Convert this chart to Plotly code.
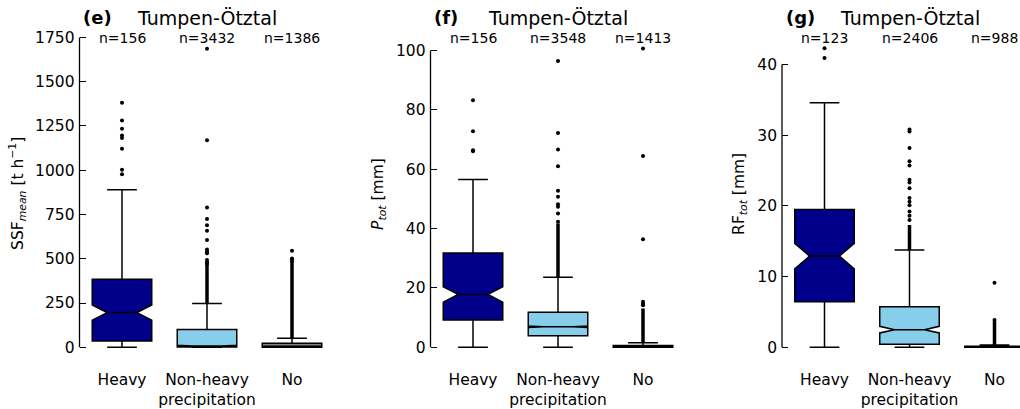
import plotly.graph_objects as go

# ---------------- data ----------------
categories = ["Heavy", "Non-heavy<br>precipitation", "No"]
box_colors = ["#00008B", "#87CEEB", "#808080"]

# (e) SSF_mean [t h-1]
ssf_n = [156, 3432, 1386]
ssf_q1 = [36, 2, 0]
ssf_median = [196, 7, 6]
ssf_q3 = [384, 100, 23]
ssf_low = [0, 0, 0]
ssf_high = [890, 247, 51]
ssf_notch = [43, 4, 1]
ssf_out_heavy = [1381, 1281, 1234, 1197, 1182, 1122, 1003, 977]
ssf_out_nonheavy = [1686, 1169, 790, 724, 690, 658, 606, 553, 540, 531, 493, 480, 470]
ssf_out_no = [545, 502, 497, 485]
ssf_dense = [None, (247, 468), (51, 480)]

# (f) P_tot [mm]
p_n = [156, 3548, 1413]
p_q1 = [9.2, 3.9, 0.0]
p_median = [17.8, 6.9, 0.2]
p_q3 = [31.8, 11.8, 0.6]
p_low = [0, 0, 0]
p_high = [56.5, 23.6, 1.5]
p_notch = [2.6, 0.25, 0.05]
p_out_heavy = [83.2, 72.8, 66.4, 66.0]
p_out_nonheavy = [96.4, 72.2, 66.6, 61.0, 52.7, 50.7, 48.2, 47.3, 45.1, 42.3]
p_out_no = [100.6, 64.4, 36.4, 15.3, 14.7, 14.2]
p_dense = [None, (23.6, 41.7), (1.5, 13.1)]

# (g) RF_tot [mm]
rf_n = [123, 2406, 988]
rf_q1 = [6.45, 0.45, 0.0]
rf_median = [12.9, 2.5, 0.05]
rf_q3 = [19.5, 5.75, 0.15]
rf_low = [0, 0, 0]
rf_high = [34.6, 13.75, 0.33]
rf_notch = [1.8, 0.47, 0.02]
rf_out_heavy = [42.3, 40.9]
rf_out_nonheavy = [30.8, 30.5, 28.2, 26.3, 25.7, 23.7, 23.3, 22.5, 21.1, 20.6, 20.1, 19.2, 18.6, 18.0]
rf_out_no = [9.13, 3.86]
rf_dense = [None, (13.75, 17.3), (0.33, 3.7)]

ytick_ssf = [0, 250, 500, 750, 1000, 1250, 1500, 1750]
ytick_p = [0, 20, 40, 60, 80, 100]
ytick_rf = [0, 10, 20, 30, 40]

# ---------------- layout constants ----------------
W, H = 1020, 409
FONT = "DejaVu Sans"
plot_top, plot_bot = 30, 362.5

panels = [
    dict(letter="(e)", ytitle="SSF<sub><i>mean</i></sub> [t h<sup>−1</sup>]",
         n=ssf_n, q1=ssf_q1, med=ssf_median, q3=ssf_q3, lo=ssf_low, hi=ssf_high, notch=ssf_notch,
         outs=[ssf_out_heavy, ssf_out_nonheavy, ssf_out_no], dense=ssf_dense,
         ticks=ytick_ssf, yrange=[-56.5, 1789.5], xpix=(79.5, 334.5), xrange=[-0.5, 2.5], ytx=18),
    dict(letter="(f)", ytitle="<i>P</i><sub><i>tot</i></sub> [mm]",
         n=p_n, q1=p_q1, med=p_median, q3=p_q3, lo=p_low, hi=p_high, notch=p_notch,
         outs=[p_out_heavy, p_out_nonheavy, p_out_no], dense=p_dense,
         ticks=ytick_p, yrange=[-3.37, 106.7], xpix=(430.5, 685.5), xrange=[-0.5, 2.5], ytx=379),
    dict(letter="(g)", ytitle="RF<sub><i>tot</i></sub> [mm]",
         n=rf_n, q1=rf_q1, med=rf_median, q3=rf_q3, lo=rf_low, hi=rf_high, notch=rf_notch,
         outs=[rf_out_heavy, rf_out_nonheavy, rf_out_no], dense=rf_dense,
         ticks=ytick_rf, yrange=[-1.41, 44.8], xpix=(782, 1020), xrange=[-0.5, 2.3], ytx=740),
]

fig = go.Figure()
annotations = []
shapes = []
ydom = [1 - plot_bot / H, 1 - plot_top / H]

for i, p in enumerate(panels):
    sfx = "" if i == 0 else str(i + 1)
    xa, ya = "x" + sfx, "y" + sfx
    for j, cat in enumerate(categories):
        fig.add_trace(go.Box(
            x=[cat], q1=[p["q1"][j]], median=[p["med"][j]], q3=[p["q3"][j]],
            lowerfence=[p["lo"][j]], upperfence=[p["hi"][j]], notchspan=[p["notch"][j]],
            notched=True, notchwidth=0.25, width=0.7, whiskerwidth=0.5,
            fillcolor=box_colors[j], line=dict(color="black", width=1.5),
            boxpoints=False, showlegend=False, hoverinfo="skip",
            xaxis=xa, yaxis=ya))
        d = p["dense"][j]
        if d is not None:
            fig.add_trace(go.Scatter(x=[cat, cat], y=[d[0], d[1]], mode="lines",
                                     line=dict(color="black", width=3.5),
                                     showlegend=False, hoverinfo="skip", xaxis=xa, yaxis=ya))
        outs = p["outs"][j]
        fig.add_trace(go.Scatter(x=[cat] * len(outs), y=outs, mode="markers",
                                 marker=dict(color="black", size=4),
                                 showlegend=False, hoverinfo="skip", xaxis=xa, yaxis=ya))
        annotations.append(dict(x=cat, xref=xa, y=1 - 38 / H, yref="paper",
                                text=f"n={p['n'][j]}", showarrow=False,
                                font=dict(family=FONT, size=14, color="black"),
                                xanchor="center", yanchor="middle"))

    x0, x1 = p["xpix"]
    full_right = x0 + 255
    fig.update_layout(**{
        "xaxis" + sfx: dict(domain=[x0 / W, x1 / W], range=p["xrange"], type="category",
                            categoryorder="array", categoryarray=categories,
                            showline=False, showgrid=False, zeroline=False, ticks="",
                            tickfont=dict(family=FONT, size=15.5, color="black"),
                            ticklabelstandoff=11, anchor=ya),
        "yaxis" + sfx: dict(domain=ydom, range=p["yrange"], tickvals=p["ticks"],
                            showline=False, showgrid=False, zeroline=False,
                            ticks="inside", ticklen=6, tickwidth=1.3, tickcolor="black",
                            tickfont=dict(family=FONT, size=15.5, color="black"),
                            ticklabelstandoff=4, anchor=xa),
    })
    shapes.append(dict(type="line", xref=xa + " domain", x0=0, x1=0, yref=ya,
                       y0=p["ticks"][0], y1=p["ticks"][-1],
                       line=dict(color="black", width=1.3)))
    annotations.append(dict(x=(x0 + 1.5) / W, xref="paper", y=1 - 17 / H, yref="paper",
                            text=f"<b>{p['letter']}</b>", showarrow=False,
                            font=dict(family=FONT, size=18, color="black"),
                            xanchor="left", yanchor="middle"))
    annotations.append(dict(x=(x0 + full_right) / 2 / W, xref="paper", y=1 - 17 / H, yref="paper",
                            text="Tumpen-Ötztal", showarrow=False,
                            font=dict(family=FONT, size=19, color="black"),
                            xanchor="center", yanchor="middle"))
    annotations.append(dict(x=p["ytx"] / W, xref="paper", y=1 - (plot_top + plot_bot) / 2 / H,
                            yref="paper", text=p["ytitle"], textangle=-90, showarrow=False,
                            font=dict(family=FONT, size=15.5, color="black"),
                            xanchor="center", yanchor="middle"))

fig.update_layout(width=W, height=H, margin=dict(l=0, r=0, t=0, b=0),
                  paper_bgcolor="white", plot_bgcolor="white",
                  annotations=annotations, shapes=shapes, boxmode="overlay")
fig.write_html("out.html", config={"displayModeBar": False},
               post_script="document.body.style.margin='0';document.body.style.overflow='hidden';")
